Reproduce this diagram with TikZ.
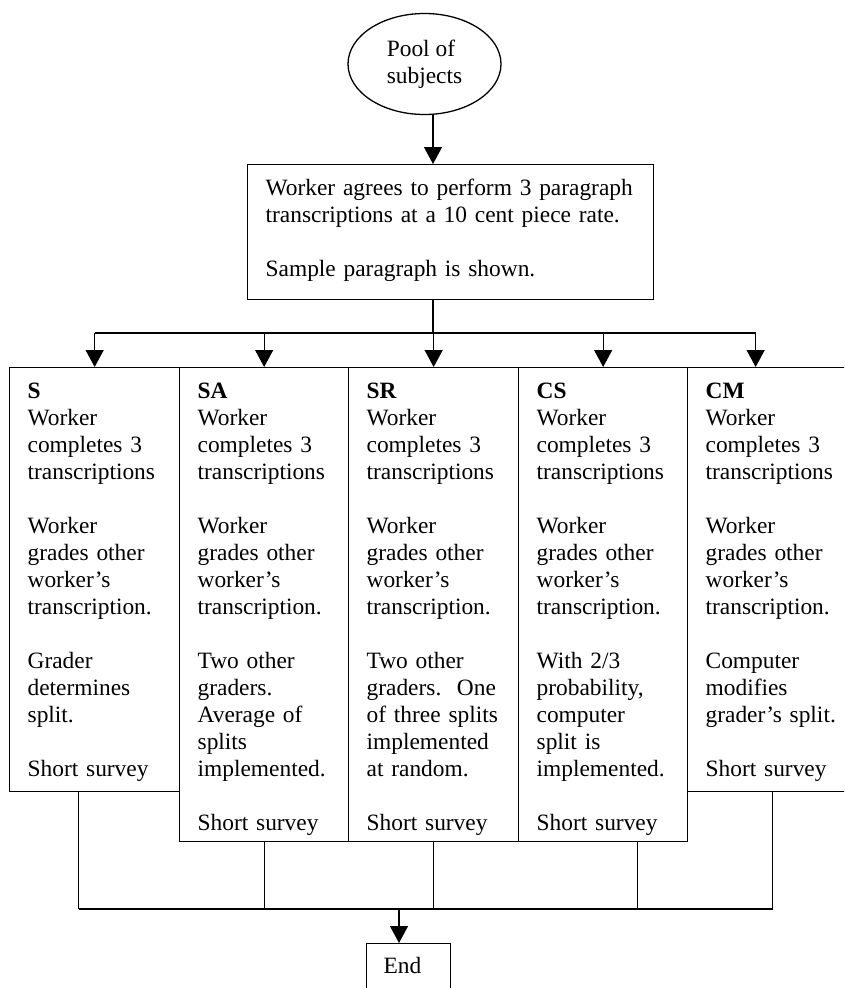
\documentclass[tikz,border=0pt]{standalone}
\usepackage{fontspec}
\setmainfont{Liberation Serif}
\usetikzlibrary{arrows.meta,shapes.geometric}
\tikzset{>/.tip={Triangle[width=18pt,length=17pt]}}
\newcommand{\armintro}{Worker\\completes 3\\transcriptions\\[27pt]Worker\\grades other\\worker’s\\transcription.\\[27pt]}

\begin{document}
\begin{tikzpicture}[x=1pt,y=-1pt,line width=1.3pt,
  every node/.style={font=\fontsize{23.4}{27}\selectfont},
  box/.style={draw,rectangle,inner sep=0pt,anchor=north west},
  txt/.style={anchor=base west,inner sep=0pt,align=left,text width=#1},
  txt/.default=150pt]
\useasboundingbox (0,0) rectangle (844,988);
\fill[white] (0,0) rectangle (844,988);
\clip (0,0) rectangle (844,988);
% start and agreement
\node[draw,ellipse,minimum width=153pt,minimum height=101pt,inner sep=0pt,align=left] (pool) at (424.5,64) {Pool of\\subjects};
\node[box,minimum width=406pt,minimum height=135pt] (agree) at (247,164) {};
\node[txt=380pt] (agreetxt) at ([shift={(18,31)}]agree.north west) {Worker agrees to perform 3 paragraph\\transcriptions at a 10 cent piece rate.\\[27pt]Sample paragraph is shown.};
% treatment columns
\node[box,minimum width=170pt,minimum height=424pt] (s) at (9,367) {};
\node[box,minimum width=169pt,minimum height=474pt] (sa) at (179,367) {};
\node[box,minimum width=170pt,minimum height=474pt] (sr) at (348,367) {};
\node[box,minimum width=169pt,minimum height=474pt] (cs) at (518,367) {};
\node[box,minimum width=170pt,minimum height=424pt] (cm) at (687,367) {};
\node[txt] (stxt) at ([shift={(18,31)}]s.north west) {\textbf{S}\\\armintro Grader\\determines\\split.\\[27pt]Short survey};
\node[txt] (satxt) at ([shift={(18,31)}]sa.north west) {\textbf{SA}\\\armintro Two other\\graders.\\Average of\\splits\\implemented.\\[27pt]Short survey};
\node[txt] (srtxt) at ([shift={(18,31)}]sr.north west) {\textbf{SR}\\\armintro Two other\\graders.\ \ One\\of three splits\\implemented\\at random.\\[27pt]Short survey};
\node[txt] (cstxt) at ([shift={(18,31)}]cs.north west) {\textbf{CS}\\\armintro With 2/3\\probability,\\computer\\split is\\implemented.\\[27pt]Short survey};
\node[txt] (cmtxt) at ([shift={(18,31)}]cm.north west) {\textbf{CM}\\\armintro Computer\\modifies\\grader’s split.\\[27pt]Short survey};
% end
\node[box,minimum width=84pt,minimum height=60pt] (end) at (366,943) {};
\node[txt] (endtxt) at ([shift={(17,30)}]end.north west) {End};
% connectors
\coordinate (fork) at (433,333);
\coordinate (join) at (399,909);
\draw[->] (pool.south -| fork) -- (agree.north -| fork);
\draw (agree.south -| fork) -- (fork);
\draw (s.north |- fork) -- ([xshift=-17pt]cm.north |- fork);
\foreach \c/\dx in {s/0,sa/0,sr/0,cs/0,cm/-17}
  \draw[->] ([xshift=\dx pt]\c.north |- fork) -- ([xshift=\dx pt]\c.north);
\foreach \c/\dx in {s/-16,sa/0,sr/0,cs/34.5,cm/0}
  \draw ([xshift=\dx pt]\c.south) -- ([xshift=\dx pt]\c.south |- join);
\draw ([xshift=-16pt]s.south |- join) -- (cm.south |- join);
\draw[->] (join) -- (join |- end.north);
\end{tikzpicture}
\end{document}
